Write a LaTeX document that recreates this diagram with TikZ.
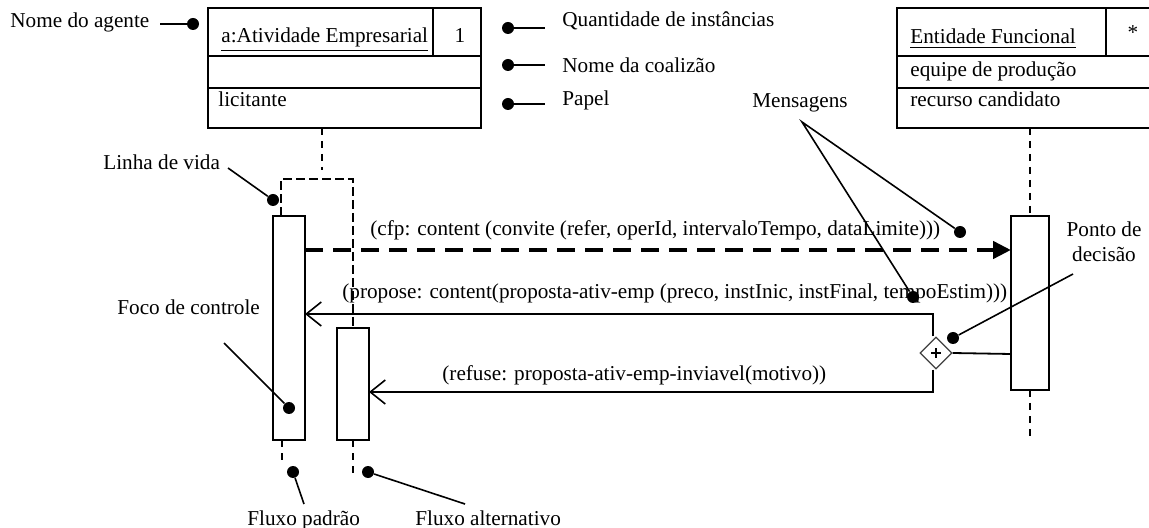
\documentclass[tikz,border=0pt]{standalone}
\usepackage{fontspec}
\setmainfont{Liberation Serif}
\usetikzlibrary{arrows.meta,shapes.geometric}
\begin{document}
\begin{tikzpicture}[x=0.5pt,y=-0.5pt,
  font=\fontsize{10.6}{12}\selectfont,
  txt/.style={inner sep=0pt,anchor=base west},
  ctxt/.style={inner sep=0pt,anchor=base},
  umlbox/.style={draw,line width=1pt,inner sep=0pt,minimum width=#1},
  bar/.style={draw,line width=0.9pt,inner sep=0pt,fill=white},
  dot/.style={circle,fill,inner sep=0pt,minimum size=6pt},
  pointer/.style={line width=0.8pt},
  life/.style={dash pattern=on 3.5pt off 3pt,line width=1.3pt},
  dbox/.style={dash pattern=on 4.5pt off 2pt,line width=0.8pt},
  cfp/.style={dash pattern=on 9pt off 5pt,line width=2.2pt,-{Triangle[length=9pt,width=8.5pt]}},
  msg/.style={line width=0.8pt,-{Straight Barb[length=7.5pt,width=12pt,line width=0.8pt]}},
  decision/.style={diamond,draw=black!75,line width=0.6pt,inner sep=0pt,minimum size=16pt,fill=white}
]
\useasboundingbox (0,0) rectangle (1149,528);

% ---- agent boxes
\node[umlbox=136.5pt,minimum height=60pt] (boxA) at (344.5,68) {};
\draw[line width=1pt] (208,56) -- (481,56) (208,88) -- (481,88) (433,8) -- (433,56);
\node[txt] (nameA) at (221,43) {\underline{a:Atividade Empresarial}};
\node[ctxt] (qtyA) at (460,43) {1};
\node[txt] (roleA) at (218,107) {licitante};

\node[umlbox=131pt,minimum height=60pt] (boxB) at (1028,68) {};
\draw[line width=1pt] (897,56) -- (1160,56) (897,88) -- (1160,88) (1106,8) -- (1106,56);
\node[txt] (nameB) at (910,44) {\underline{Entidade Funcional}};
\node[ctxt] (qtyB) at (1133,40) {*};
\node[txt] (coalB) at (910,77) {equipe de produção};
\node[txt] (roleB) at (910,107) {recurso candidato};

% ---- lifelines
\coordinate (lA1) at (322,128); \coordinate (lA2) at (322,170);
\draw[life] (lA1) -- (lA2);
\coordinate (r1) at (281,179); \coordinate (r2) at (353,179);
\coordinate (r1b) at (281,216); \coordinate (r2b) at (353,328);
\draw[dbox] (r1b) -- (r1) -- (r2) -- (r2b);

\node[bar,minimum width=16pt,minimum height=112pt] (barA) at (289,328) {};
\node[bar,minimum width=16pt,minimum height=56pt] (barB) at (353,384) {};

\coordinate (fA1) at (282,440); \coordinate (fA2) at (282,466);
\coordinate (fB1) at (353,440); \coordinate (fB2) at (353,473);
\draw[life,line width=1.1pt] (fA1) -- (fA2);
\draw[life,line width=1.1pt] (fB1) -- (fB2);

\coordinate (lC1) at (1030,128); \coordinate (lC2) at (1030,216);
\coordinate (lC3) at (1030,390); \coordinate (lC4) at (1030,440);
\draw[life] (lC1) -- (lC2);
\draw[life] (lC3) -- (lC4);
\node[bar,minimum width=19pt,minimum height=87pt] (barC) at (1030,303) {};

% ---- messages
\node[txt] (mcfp) at (370,236) {(cfp: content (convite (refer, operId, intervaloTempo, dataLimite)))};
\coordinate (cfpS) at (305,250); \coordinate (cfpE) at (1011,250);
\draw[cfp] (cfpS) -- (cfpE);

\node[decision] (dec) at (936,353) {};
\draw[line width=0.6pt] ([xshift=-2.5pt]dec.center) -- ([xshift=2.5pt]dec.center)
  ([yshift=-2.5pt]dec.center) -- ([yshift=2.5pt]dec.center);
\coordinate (decR) at (1011,354);
\draw[line width=0.9pt] (dec.east) -- (decR);

\node[txt] (mprop) at (342,299) {(propose: content(proposta-ativ-emp (preco, instInic, instFinal, tempoEstim)))};
\coordinate (pC) at (933,314); \coordinate (pE) at (305,314);
\draw[msg] ([xshift=-1.5pt]dec.north) -- (pC) -- (pE);

\node[txt] (mref) at (442,381) {(refuse: proposta-ativ-emp-inviavel(motivo))};
\coordinate (fC) at (933,392); \coordinate (fE) at (369,392);
\draw[msg] ([xshift=-1.5pt]dec.south) -- (fC) -- (fE);

% ---- annotations
\node[txt] (tAg) at (10,28) {Nome do agente};
\coordinate (pAg) at (160,24); \node[dot] (dAg) at (193,24) {};
\draw[pointer] (pAg) -- (dAg);

\node[txt] (tQty) at (562,27) {Quantidade de instâncias};
\node[dot] (dQty) at (508,28) {}; \coordinate (pQty) at (545,28);
\draw[pointer] (dQty) -- (pQty);

\node[txt] (tCoal) at (562,73) {Nome da coalizão};
\node[dot] (dCoal) at (508,65) {}; \coordinate (pCoal) at (545,65);
\draw[pointer] (dCoal) -- (pCoal);

\node[txt] (tPap) at (562,106) {Papel};
\node[dot] (dPap) at (508,104) {}; \coordinate (pPap) at (545,104);
\draw[pointer] (dPap) -- (pPap);

\node[ctxt] (tMsg) at (800,108) {Mensagens};
\coordinate (pMsg) at (802,122);
\node[dot] (dMsg1) at (960,232) {};
\node[dot] (dMsg2) at (913,297) {};
\draw[pointer] (dMsg1) -- (pMsg) -- (dMsg2);

\node[txt] (tLV) at (103,170) {Linha de vida};
\coordinate (pLV) at (228,168); \node[dot] (dLV) at (273,200) {};
\draw[pointer] (pLV) -- (dLV);

\node[txt] (tFoco) at (117,315) {Foco de controle};
\coordinate (pFoco) at (224,343); \node[dot] (dFoco) at (289,408) {};
\draw[pointer] (pFoco) -- (dFoco);

\node[ctxt] (tPD1) at (1104,237) {Ponto de};
\node[ctxt] (tPD2) at (1104,262) {decisão};
\coordinate (pPD) at (1073,274); \node[dot] (dPD) at (953,338) {};
\draw[pointer] (pPD) -- (dPD);

\node[txt] (tFP) at (247,525) {Fluxo padrão};
\coordinate (pFP) at (304,504); \node[dot] (dFP) at (293,472) {};
\draw[pointer] (pFP) -- (dFP);

\node[txt] (tFA) at (415,525) {Fluxo alternativo};
\coordinate (pFA) at (465,504); \node[dot] (dFA) at (368,472) {};
\draw[pointer] (pFA) -- (dFA);
\end{tikzpicture}
\end{document}
